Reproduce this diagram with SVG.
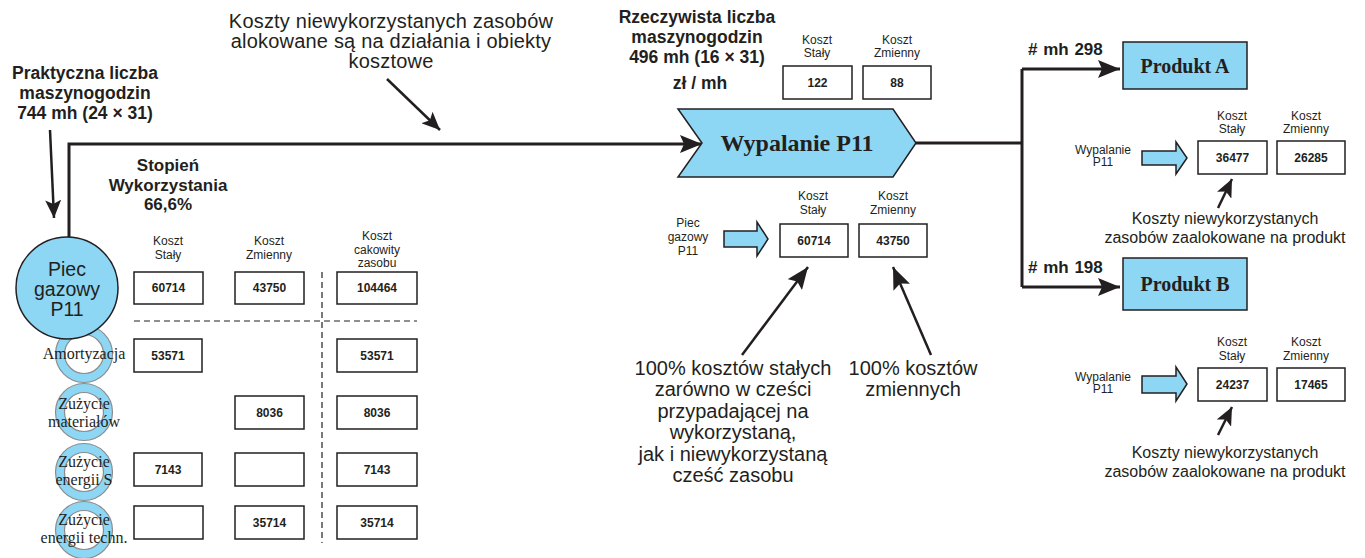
<svg xmlns="http://www.w3.org/2000/svg" width="1365" height="558" viewBox="0 0 1365 558">
<defs>
<style>
text{font-family:"Liberation Sans",Arial,sans-serif;fill:#231F20;text-anchor:middle}
.b{font-weight:bold}
.hdr{font-size:12px}
.num{font-size:12px;font-weight:bold}
.ser{font-family:"Liberation Serif","Times New Roman",serif}
.box{fill:#fff;stroke:#231F20;stroke-width:1.5}
.blue{fill:#8DD6F4;stroke:#231F20;stroke-width:1.5}
.conn{fill:none;stroke:#231F20;stroke-width:3}
.ann{fill:none;stroke:#231F20;stroke-width:2.5}
.dash{fill:none;stroke:#231F20;stroke-width:1.2;stroke-dasharray:6 4}
.ring{fill:#8DD6F4;stroke:#8C8C8C;stroke-width:1.2}
.ringin{fill:#fff;stroke:#8C8C8C;stroke-width:1.2}
</style>
<marker id="ah" markerUnits="userSpaceOnUse" markerWidth="24" markerHeight="18" refX="22" refY="9" orient="auto">
<path d="M0,0 L22,9 L0,18 L4,9 Z" fill="#231F20"/>
</marker>
<marker id="ahs" markerUnits="userSpaceOnUse" markerWidth="20" markerHeight="16" refX="18" refY="8" orient="auto">
<path d="M0,0 L18,8 L0,16 L4,8 Z" fill="#231F20"/>
</marker>
</defs>

<!-- connectors -->
<g id="connectors">
<path class="conn" d="M69,237 V144 H702" marker-end="url(#ah)"/>
<path class="conn" d="M916,143 H1022"/>
<path class="conn" d="M1022,69 V287"/>
<path class="conn" d="M1022,69 H1120" marker-end="url(#ah)"/>
<path class="conn" d="M1022,287 H1120" marker-end="url(#ah)"/>
<path class="ann" d="M50,130 L54,218" marker-end="url(#ahs)"/>
<path class="ann" d="M387,79 L440,130" marker-end="url(#ahs)"/>
<path class="ann" d="M742,355 L808,267" marker-end="url(#ah)"/>
<path class="ann" d="M931,355 L893,267" marker-end="url(#ah)"/>
<path class="ann" d="M1218,208 L1232,179" marker-end="url(#ahs)"/>
<path class="ann" d="M1218,435 L1232,407" marker-end="url(#ahs)"/>
<path class="dash" d="M134,321 H417"/>
<path class="dash" d="M322,272 V543"/>
</g>

<!-- top-left labels -->
<g id="label-praktyczna">
<text x="85" y="79" class="b" font-size="17.5">Praktyczna liczba</text>
<text x="85" y="99" class="b" font-size="17.5">maszynogodzin</text>
<text x="85" y="119" class="b" font-size="17.5">744 mh (24 × 31)</text>
</g>
<g id="label-koszty-top">
<text x="391" y="28" font-size="20" letter-spacing="0.2">Koszty niewykorzystanych zasobów</text>
<text x="391" y="48" font-size="20" letter-spacing="0.2">alokowane są na działania i obiekty</text>
<text x="391" y="68" font-size="20" letter-spacing="0.2">kosztowe</text>
</g>
<g id="label-stopien">
<text x="168" y="171" class="b" font-size="17">Stopień</text>
<text x="168" y="191" class="b" font-size="17">Wykorzystania</text>
<text x="168" y="210" class="b" font-size="17">66,6%</text>
</g>

<!-- rings -->
<g id="ring-amortyzacja">
<circle class="ring" cx="84" cy="354" r="28.5"/>
<circle class="ringin" cx="84" cy="354" r="19.5"/>
<text x="84" y="359" class="ser" font-size="16">Amortyzacja</text>
</g>
<g id="ring-materialy">
<circle class="ring" cx="84" cy="412" r="28.5"/>
<circle class="ringin" cx="84" cy="412" r="19.5"/>
<text x="84" y="409" class="ser" font-size="16">Zużycie</text>
<text x="84" y="427" class="ser" font-size="16">materiałów</text>
</g>
<g id="ring-energia-s">
<circle class="ring" cx="84" cy="472" r="28.5"/>
<circle class="ringin" cx="84" cy="472" r="19.5"/>
<text x="84" y="467" class="ser" font-size="16">Zużycie</text>
<text x="84" y="485" class="ser" font-size="16">energii S</text>
</g>
<g id="ring-energia-t">
<circle class="ring" cx="84" cy="530" r="28.5"/>
<circle class="ringin" cx="84" cy="530" r="19.5"/>
<text x="84" y="525" class="ser" font-size="16">Zużycie</text>
<text x="84" y="543" class="ser" font-size="16">energii techn.</text>
</g>

<!-- Piec gazowy circle -->
<g id="node-piec">
<circle class="blue" cx="67" cy="288" r="51"/>
<text x="67" y="276" font-size="19.5">Piec</text>
<text x="67" y="296" font-size="19.5">gazowy</text>
<text x="67" y="316" font-size="19.5">P11</text>
</g>

<!-- left table -->
<g id="table-left">
<text x="168" y="245" class="hdr">Koszt</text>
<text x="168" y="259" class="hdr">Stały</text>
<text x="269" y="245" class="hdr">Koszt</text>
<text x="269" y="259" class="hdr">Zmienny</text>
<text x="377" y="240" class="hdr">Koszt</text>
<text x="377" y="254" class="hdr">cakowity</text>
<text x="377" y="267" class="hdr">zasobu</text>

<rect class="box" x="134" y="272" width="69" height="32"/><text x="168.5" y="292" class="num">60714</text>
<rect class="box" x="235" y="272" width="69" height="32"/><text x="269.5" y="292" class="num">43750</text>
<rect class="box" x="337" y="272" width="80" height="32"/><text x="377" y="292" class="num">104464</text>

<rect class="box" x="134" y="339" width="68" height="33"/><text x="168" y="360" class="num">53571</text>
<rect class="box" x="337" y="339" width="80" height="33"/><text x="377" y="360" class="num">53571</text>

<rect class="box" x="235" y="396" width="69" height="33"/><text x="269.5" y="417" class="num">8036</text>
<rect class="box" x="337" y="396" width="80" height="33"/><text x="377" y="417" class="num">8036</text>

<rect class="box" x="134" y="453" width="68" height="33"/><text x="168" y="474" class="num">7143</text>
<rect class="box" x="235" y="453" width="69" height="33"/>
<rect class="box" x="337" y="453" width="80" height="33"/><text x="377" y="474" class="num">7143</text>

<rect class="box" x="134" y="506" width="69" height="33"/>
<rect class="box" x="235" y="506" width="69" height="33"/><text x="269.5" y="527" class="num">35714</text>
<rect class="box" x="337" y="506" width="80" height="33"/><text x="377" y="527" class="num">35714</text>
</g>

<!-- Rzeczywista -->
<g id="label-rzeczywista">
<text x="697" y="23" class="b" font-size="17.5">Rzeczywista liczba</text>
<text x="697" y="43" class="b" font-size="17.5">maszynogodzin</text>
<text x="697" y="63" class="b" font-size="17.5">496 mh (16 × 31)</text>
<text x="700" y="89" class="b" font-size="17.5">zł / mh</text>
</g>
<g id="rate-boxes">
<text x="817" y="44" class="hdr">Koszt</text>
<text x="817" y="57" class="hdr">Stały</text>
<text x="897" y="44" class="hdr">Koszt</text>
<text x="897" y="57" class="hdr">Zmienny</text>
<rect class="box" x="783" y="66" width="69" height="33"/><text x="817.5" y="87" class="num">122</text>
<rect class="box" x="863" y="66" width="68" height="33"/><text x="897" y="87" class="num">88</text>
</g>

<!-- Wypalanie chevron -->
<g id="node-wypalanie">
<path class="blue" d="M678,109 H893 L916,143 L893,177 H678 L702,143 Z"/>
<text x="797" y="151" class="ser b" font-size="24">Wypalanie P11</text>
</g>

<!-- middle cost block -->
<g id="mid-block">
<text x="688" y="227" class="hdr">Piec</text>
<text x="688" y="241" class="hdr">gazowy</text>
<text x="688" y="255" class="hdr">P11</text>
<path class="blue" d="M724,231 H757 V222 L768,239 L757,256 V247 H724 Z"/>
<text x="813" y="200" class="hdr">Koszt</text>
<text x="813" y="214" class="hdr">Stały</text>
<text x="893" y="200" class="hdr">Koszt</text>
<text x="893" y="214" class="hdr">Zmienny</text>
<rect class="box" x="780" y="224" width="68" height="33"/><text x="814" y="245" class="num">60714</text>
<rect class="box" x="859" y="224" width="68" height="33"/><text x="893" y="245" class="num">43750</text>
</g>
<g id="label-100-stalych">
<text x="733" y="375" font-size="20">100% kosztów stałych</text>
<text x="733" y="396" font-size="20">zarówno w cześci</text>
<text x="733" y="418" font-size="20">przypadającej na</text>
<text x="733" y="439" font-size="20">wykorzystaną,</text>
<text x="733" y="461" font-size="20">jak i niewykorzystaną</text>
<text x="733" y="482" font-size="20">cześć zasobu</text>
</g>
<g id="label-100-zmiennych">
<text x="913" y="375" font-size="20">100% kosztów</text>
<text x="913" y="396" font-size="20">zmiennych</text>
</g>

<!-- Produkt A -->
<g id="node-produkt-a">
<text x="1028" y="55" class="b" font-size="17" word-spacing="1" style="text-anchor:start"># mh 298</text>
<rect class="blue" x="1123" y="42" width="124" height="47"/>
<text x="1185" y="73" class="ser b" font-size="20">Produkt A</text>
</g>
<g id="block-a">
<text x="1103" y="154" class="hdr">Wypalanie</text>
<text x="1103" y="166" class="hdr">P11</text>
<path class="blue" d="M1142,151 H1176 V142 L1187,158 L1176,174 V165 H1142 Z"/>
<text x="1232" y="120" class="hdr">Koszt</text>
<text x="1232" y="133" class="hdr">Stały</text>
<text x="1306" y="120" class="hdr">Koszt</text>
<text x="1306" y="133" class="hdr">Zmienny</text>
<rect class="box" x="1198" y="141" width="69" height="33"/><text x="1232.5" y="162" class="num">36477</text>
<rect class="box" x="1277" y="141" width="68" height="33"/><text x="1311" y="162" class="num">26285</text>
<text x="1225" y="224" font-size="16">Koszty niewykorzystanych</text>
<text x="1225" y="243" font-size="16">zasobów zaalokowane na produkt</text>
</g>

<!-- Produkt B -->
<g id="node-produkt-b">
<text x="1028" y="273" class="b" font-size="17" word-spacing="1" style="text-anchor:start"># mh 198</text>
<rect class="blue" x="1123" y="258" width="124" height="52"/>
<text x="1185" y="291" class="ser b" font-size="20">Produkt B</text>
</g>
<g id="block-b">
<text x="1103" y="381" class="hdr">Wypalanie</text>
<text x="1103" y="393" class="hdr">P11</text>
<path class="blue" d="M1142,376 H1176 V367 L1187,384 L1176,401 V393 H1142 Z"/>
<text x="1232" y="346" class="hdr">Koszt</text>
<text x="1232" y="360" class="hdr">Stały</text>
<text x="1306" y="346" class="hdr">Koszt</text>
<text x="1306" y="360" class="hdr">Zmienny</text>
<rect class="box" x="1198" y="368" width="69" height="33"/><text x="1232.5" y="389" class="num">24237</text>
<rect class="box" x="1277" y="368" width="68" height="33"/><text x="1311" y="389" class="num">17465</text>
<text x="1225" y="458" font-size="16">Koszty niewykorzystanych</text>
<text x="1225" y="477" font-size="16">zasobów zaalokowane na produkt</text>
</g>
</svg>
